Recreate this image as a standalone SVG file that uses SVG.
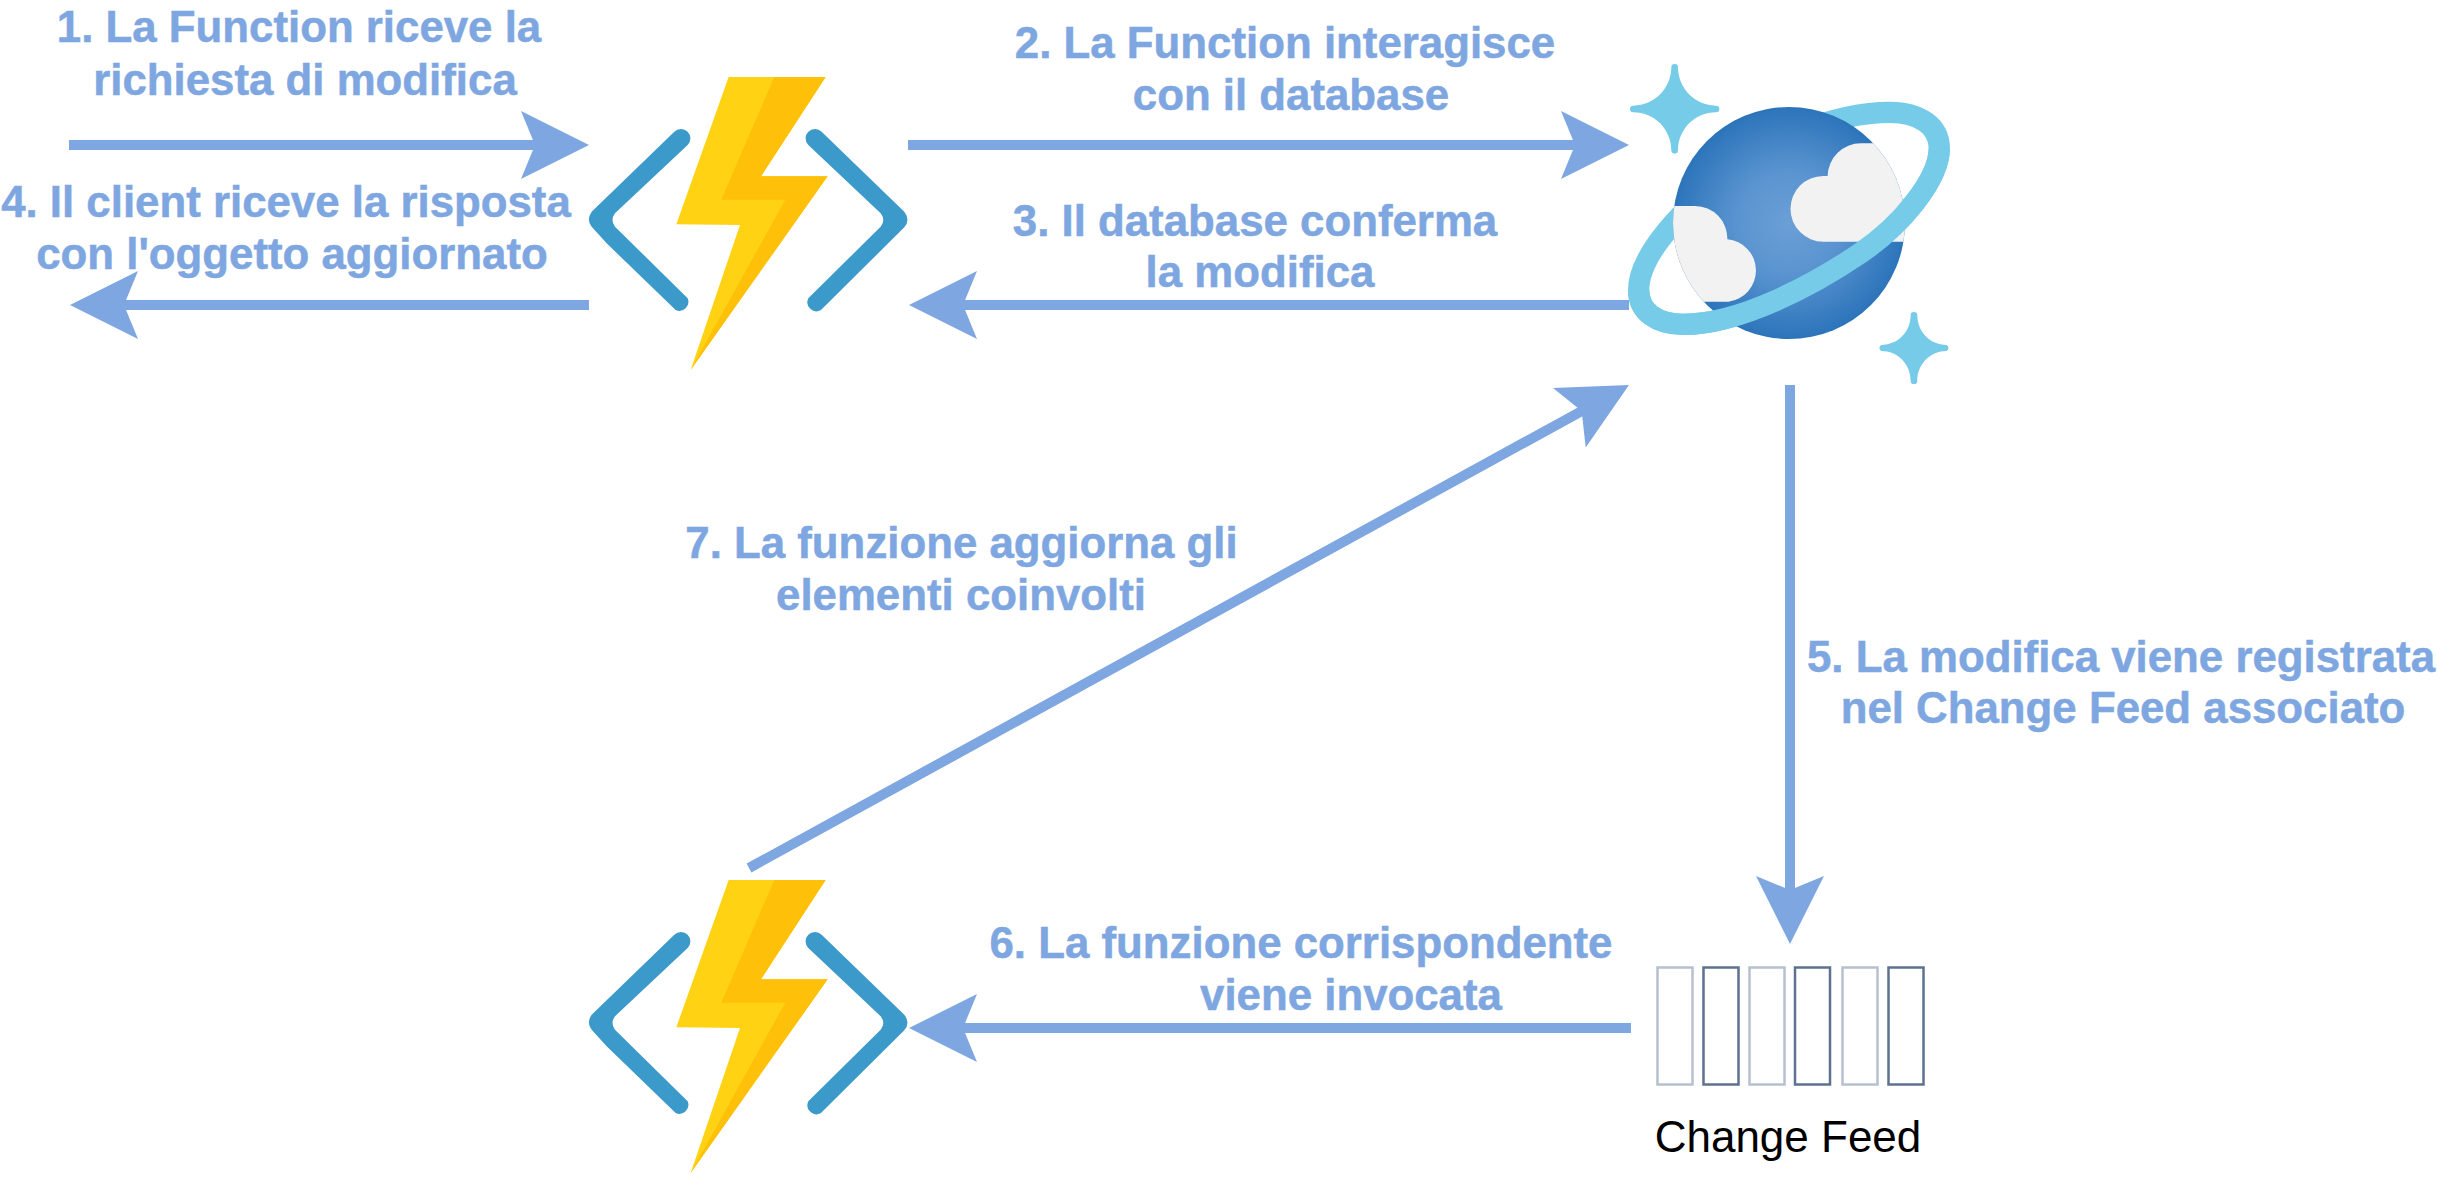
<svg xmlns="http://www.w3.org/2000/svg" width="2438" height="1188" viewBox="0 0 2438 1188">
<style>
.lbl{font-family:"Liberation Sans",Arial,sans-serif;font-weight:700;font-size:43.8px;fill:#7ea6e0;stroke:#7ea6e0;stroke-width:.5;text-anchor:middle}
.cap{font-family:"Liberation Sans",Arial,sans-serif;font-size:44px;fill:#000;text-anchor:middle}
.conn{fill:none;stroke:#7ea6e0;stroke-width:10}
.star{fill:#76cbe9}
.ring{fill:none;stroke:#76cbe9;stroke-width:64}
.lt{fill:none;stroke:#b7c0cf;stroke-width:2.5}
.dk{fill:none;stroke:#5f7190;stroke-width:2.5}
</style>
<defs>
<marker id="ah" markerUnits="userSpaceOnUse" markerWidth="72" markerHeight="72" refX="54" refY="36" orient="auto" viewBox="0 0 72 72"><path d="M0 2L68 36L0 70L14 36Z" fill="#7ea6e0"/></marker>
<radialGradient id="pl" cx="0.5" cy="0.5" r="0.5"><stop offset="0" stop-color="#6b9fd6"/><stop offset="0.45" stop-color="#5a94d0"/><stop offset="1" stop-color="#2c74ba"/></radialGradient>
<clipPath id="pc"><circle cx="567" cy="549" r="348"/></clipPath>
<g id="fn">
<path d="M506 81H797L603 379H803L392 960L540 525L349 523Z" fill="#ffd313"/>
<path d="M643 81H797L603 379H803L392 960L676 449H484Z" fill="#ffc00a"/>
<path d="M343 245L95 485Q78 510 95 530L140 580L347 780A27 27 0 0 0 383 745L165 530Q150 510 165 490L383 285A27 27 0 0 0 343 245Z" fill="#3b9ac9"/>
<path d="M785 245L1033 485Q1052 510 1033 532L783 780A27 27 0 0 1 745 745L962 530Q978 510 962 490L745 285A27 27 0 0 1 785 245Z" fill="#3b9ac9"/>
</g>
</defs>
<g id="connectors">
<path class="conn" d="M69 145H575" marker-end="url(#ah)"/>
<path class="conn" d="M589 305H84" marker-end="url(#ah)"/>
<path class="conn" d="M908 145H1615" marker-end="url(#ah)"/>
<path class="conn" d="M1629 305H923" marker-end="url(#ah)"/>
<path class="conn" d="M1790 385V930" marker-end="url(#ah)"/>
<path class="conn" d="M1631 1028H923" marker-end="url(#ah)"/>
<path class="conn" d="M749 868L1616.700 391.800" marker-end="url(#ah)"/>
</g>
<g id="function-top" transform="translate(560 50) scale(.3333)"><use href="#fn"/></g>
<g id="function-bottom" transform="translate(560 853) scale(.3333)"><use href="#fn"/></g>
<g id="cosmos" transform="translate(1600 40) scale(.3333)">
<path class="star" d="M214 82a10 10 0 0 1 20 0c0 62 51 115 114 115a10 10 0 0 1 0 20c-63 0-114 51-114 114a10 10 0 0 1-20 0c0-63-51-114-114-114a10 10 0 0 1 0-20c63 0 114-53 114-115Z"/>
<path class="star" d="M932 826a10 10 0 0 1 20 0c0 50 39 89 88 89a10 10 0 0 1 0 18c-49 0-88 39-88 89a10 10 0 0 1-20 0c0-50-39-89-88-89a10 10 0 0 1 0-18c49 0 88-39 88-89Z"/>
<path class="ring" d="M600 275C690 240 790 217 870 217C960 217 1018 260 1018 325C1018 420 900 560 780 640C640 735 420 853 250 853C170 853 116 815 116 750C116 680 170 590 300 470"/>
<circle cx="567" cy="549" r="348" fill="url(#pl)"/>
<g clip-path="url(#pc)" fill="#f2f2f2">
<path d="M670 605A98.500 98.500 0 0 1 670 408H683A100 100 0 0 1 783 310H950V605Z"/>
<path d="M190 498H285A97 97 0 0 1 382 598A94 94 0 0 1 385 785H190Z"/>
</g>
<path class="ring" d="M1018 325C1018 420 900 560 780 640C640 735 420 853 250 853C170 853 116 815 116 750"/>
</g>
<g id="change-feed">
<rect class="lt" x="1657.500" y="967.500" width="35" height="117"/>
<rect class="dk" x="1703.500" y="967.500" width="35" height="117"/>
<rect class="lt" x="1749.500" y="967.500" width="35" height="117"/>
<rect class="dk" x="1795" y="967.500" width="35" height="117"/>
<rect class="lt" x="1842.500" y="967.500" width="35" height="117"/>
<rect class="dk" x="1888.500" y="967.500" width="35" height="117"/>
<text class="cap" x="1788" y="1152">Change Feed</text>
</g>
<g id="labels">
<text class="lbl" x="299" y="42">1. La Function riceve la</text>
<text class="lbl" x="305" y="95">richiesta di modifica</text>
<text class="lbl" x="286" y="217">4. Il client riceve la risposta</text>
<text class="lbl" x="292" y="269">con l'oggetto aggiornato</text>
<text class="lbl" x="1285" y="58">2. La Function interagisce</text>
<text class="lbl" x="1291" y="110">con il database</text>
<text class="lbl" x="1255" y="236">3. Il database conferma</text>
<text class="lbl" x="1260" y="287">la modifica</text>
<text class="lbl" x="961.500" y="558">7. La funzione aggiorna gli</text>
<text class="lbl" x="961" y="610">elementi coinvolti</text>
<text class="lbl" x="2121" y="672">5. La modifica viene registrata</text>
<text class="lbl" x="2123" y="723">nel Change Feed associato</text>
<text class="lbl" x="1301" y="958">6. La funzione corrispondente</text>
<text class="lbl" x="1351" y="1010">viene invocata</text>
</g>
</svg>
